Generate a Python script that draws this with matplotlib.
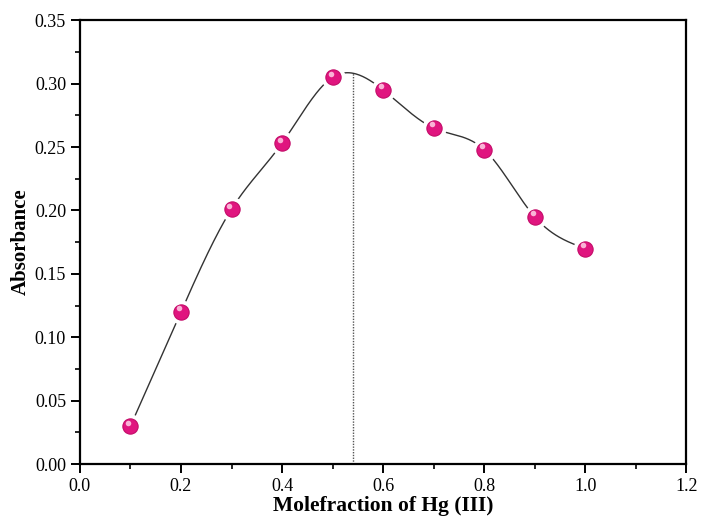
import numpy as np
import matplotlib
matplotlib.use("Agg")
import matplotlib.pyplot as plt
from matplotlib.ticker import MultipleLocator, FormatStrFormatter

mole_fraction = [0.1, 0.2, 0.3, 0.4, 0.5, 0.6, 0.7, 0.8, 0.9, 1.0]
absorbance = [0.030, 0.120, 0.201, 0.253, 0.305, 0.295, 0.265, 0.248, 0.195, 0.170]
x_peak = 0.54


def natural_spline(x, y, xs):
    x = np.asarray(x, float); y = np.asarray(y, float)
    n = len(x)
    h = np.diff(x)
    A = np.zeros((n, n)); b = np.zeros(n)
    A[0, 0] = 1; A[-1, -1] = 1
    for i in range(1, n - 1):
        A[i, i - 1] = h[i - 1]
        A[i, i] = 2 * (h[i - 1] + h[i])
        A[i, i + 1] = h[i]
        b[i] = 3 * ((y[i + 1] - y[i]) / h[i] - (y[i] - y[i - 1]) / h[i - 1])
    c = np.linalg.solve(A, b)
    out = np.empty_like(xs)
    for k, xv in enumerate(xs):
        i = min(max(np.searchsorted(x, xv) - 1, 0), n - 2)
        dx = xv - x[i]
        bi = (y[i + 1] - y[i]) / h[i] - h[i] * (2 * c[i] + c[i + 1]) / 3
        di = (c[i + 1] - c[i]) / (3 * h[i])
        out[k] = y[i] + bi * dx + c[i] * dx ** 2 + di * dx ** 3
    return out


plt.rcParams['font.family'] = ['Liberation Serif', 'DejaVu Serif']
fig = plt.figure(figsize=(7.01, 5.18), dpi=100)
ax = fig.add_axes([0.114, 0.104, 0.865, 0.857])

xs = np.linspace(mole_fraction[0], mole_fraction[-1], 400)
ys = natural_spline(mole_fraction, absorbance, xs)
ax.plot(xs, ys, color='#333333', lw=1.0, zorder=2)

y_at_peak = natural_spline(mole_fraction, absorbance, np.array([x_peak]))[0]
ax.plot([x_peak, x_peak], [0, y_at_peak], color='#555555', lw=1.0,
        linestyle=(0, (1, 1)), zorder=2)

ax.plot(mole_fraction, absorbance, linestyle='none', marker='o', ms=14,
        markerfacecolor='#e0157f', markeredgecolor='white', markeredgewidth=3.5,
        zorder=3)
ax.plot(mole_fraction, absorbance, linestyle='none', marker='o', ms=11,
        markerfacecolor='#e0157f', markeredgecolor='#c40e6a', markeredgewidth=0.8,
        zorder=4)
ax.plot(np.array(mole_fraction) - 0.004, np.array(absorbance) + 0.0028,
        linestyle='none', marker='o', ms=4, markerfacecolor='#f9b3d6',
        markeredgecolor='none', zorder=5)

ax.set_xlim(0, 1.2)
ax.set_ylim(0, 0.35)
ax.xaxis.set_major_locator(MultipleLocator(0.2))
ax.xaxis.set_minor_locator(MultipleLocator(0.1))
ax.yaxis.set_major_locator(MultipleLocator(0.05))
ax.yaxis.set_minor_locator(MultipleLocator(0.025))
ax.xaxis.set_major_formatter(FormatStrFormatter('%.1f'))
ax.yaxis.set_major_formatter(FormatStrFormatter('%.2f'))
ax.tick_params(which='major', direction='out', length=6.5, width=1.4, labelsize=13)
ax.tick_params(which='minor', direction='out', length=3.8, width=1.2)
for s in ax.spines.values():
    s.set_linewidth(1.6)

ax.set_xlabel('Molefraction of Hg (III)', fontsize=15.5, fontweight='bold', labelpad=1)
ax.set_ylabel('Absorbance', fontsize=15, fontweight='bold', labelpad=3)

fig.savefig('out.png', dpi=100)
